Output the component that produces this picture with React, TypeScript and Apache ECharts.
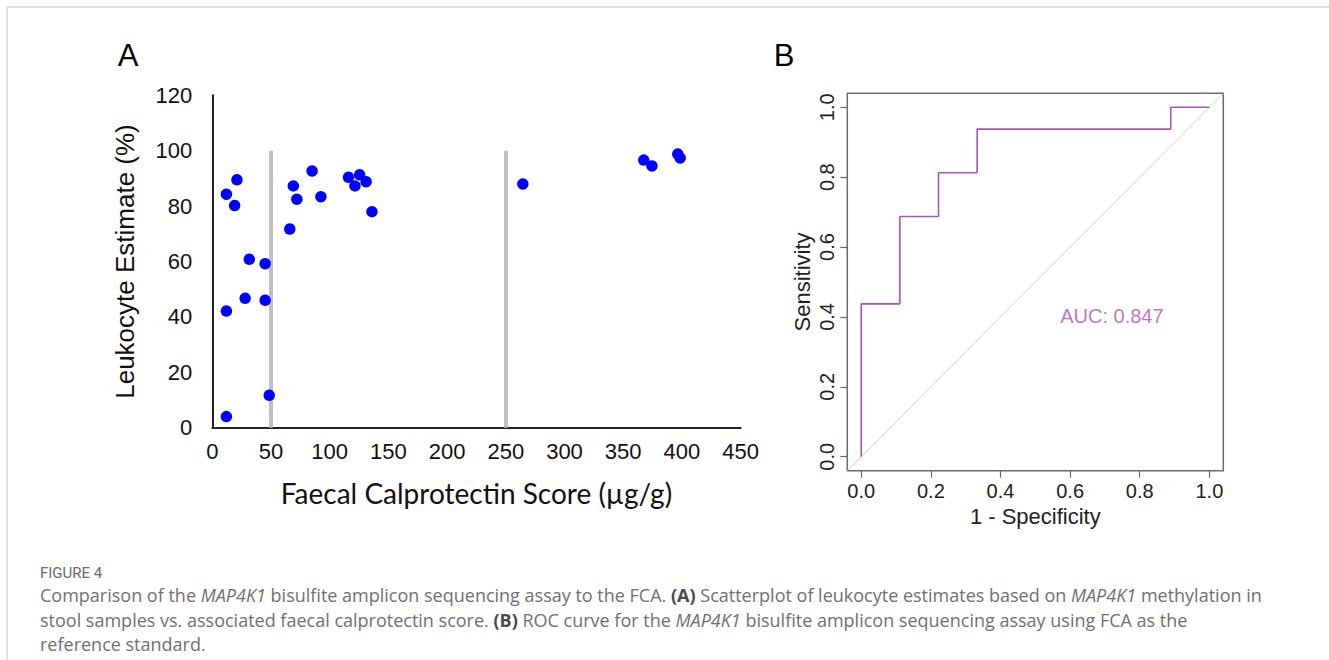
import React, { useEffect, useRef } from "react";
import * as echarts from "echarts";

// Panel A data: faecal calprotectin (µg/g) vs leukocyte estimate (%)
const calprotectin = [12, 21, 19, 12, 12, 31.5, 28, 45, 45, 48.5, 66, 69, 72, 85, 92.5, 116, 121.5, 125.5, 131, 136, 264.5, 367.5, 374.5, 396.5, 398.5];
const leukocyte = [84.3, 89.5, 80.2, 42.1, 4, 60.8, 46.7, 59.2, 46, 11.7, 71.7, 87.3, 82.5, 92.7, 83.4, 90.4, 87.3, 91.3, 88.8, 78, 88, 96.6, 94.5, 98.8, 97.4];
const cutoffs = [50, 250];
const cutoffTop = 100;

// Panel B data: ROC curve
const rocFpr = [0, 0, 0.111, 0.111, 0.222, 0.222, 0.333, 0.333, 0.889, 0.889, 1];
const rocTpr = [0, 0.4375, 0.4375, 0.6875, 0.6875, 0.8125, 0.8125, 0.9375, 0.9375, 1, 1];
const diagX = [-0.04, 1.04];
const diagY = [-0.04, 1.04];
const ticksB = [0, 0.2, 0.4, 0.6, 0.8, 1.0];
const aucValue = 0.847;
const aucPos = [0.72, 0.404];

const captionTitle = "FIGURE 4";
const captionLines = [
  "Comparison of the {i|MAP4K1} bisulfite amplicon sequencing assay to the FCA. {b|(A)} Scatterplot of leukocyte estimates based on {i|MAP4K1} methylation in",
  "stool samples vs. associated faecal calprotectin score. {b|(B)} ROC curve for the {i|MAP4K1} bisulfite amplicon sequencing assay using FCA as the",
  "reference standard.",
];

const ROC_COLOR = "#a853b9";
const CAP_FONT = "Open Sans";
const CAP_SIZE = 18;
const CAP_COLOR = "#707070";

export default function App() {
  const ref = useRef<HTMLDivElement>(null);
  useEffect(() => {
    if (!ref.current) return;
    const chart = echarts.init(ref.current, undefined, { renderer: "svg" });
    const capStyle = (y: number, text: string) => ({
      type: "text",
      left: 40,
      top: y,
      style: {
        text,
        fontFamily: CAP_FONT,
        fontSize: CAP_SIZE,
        fill: CAP_COLOR,
        rich: {
          i: { fontFamily: CAP_FONT, fontSize: CAP_SIZE, fontStyle: "italic", fill: CAP_COLOR },
          b: { fontFamily: CAP_FONT, fontSize: CAP_SIZE, fontWeight: "bold", fill: "#4a4a4a" },
        },
      },
    });
    chart.setOption({
      animation: false,
      backgroundColor: "#ffffff",
      grid: [
        { left: 212.3, top: 95.3, width: 528.3, height: 332.4, containLabel: false },
        {
          left: 847.3, top: 93.3, width: 376, height: 377.4, show: true,
          borderColor: "#6a6a6a", borderWidth: 1.5, backgroundColor: "transparent",
        },
      ],
      xAxis: [
        {
          type: "value", gridIndex: 0, min: 0, max: 450, interval: 50,
          splitLine: { show: false },
          axisLine: { show: true, onZero: false, lineStyle: { color: "#222", width: 2 } },
          axisTick: { show: false },
          axisLabel: { fontFamily: "Liberation Sans", fontSize: 22, color: "#111", margin: 13 },
          name: "Faecal Calprotectin Score (µg/g)",
          nameLocation: "middle",
          nameGap: 51,
          nameTextStyle: { fontFamily: "Lato", fontSize: 28, color: "#111" },
        },
        {
          type: "value", gridIndex: 1, min: -0.04, max: 1.04,
          splitLine: { show: false },
          axisLine: { show: false, onZero: false },
          axisTick: { show: true, length: 7, lineStyle: { color: "#666", width: 1.2 }, customValues: ticksB },
          axisLabel: {
            fontFamily: "Liberation Sans", fontSize: 20, color: "#222", margin: 10,
            customValues: ticksB, formatter: (v: number) => v.toFixed(1),
          },
          name: "1 - Specificity",
          nameLocation: "middle",
          nameGap: 30,
          nameTextStyle: { fontFamily: "Liberation Sans", fontSize: 22, color: "#222" },
        },
      ],
      yAxis: [
        {
          type: "value", gridIndex: 0, min: 0, max: 120, interval: 20,
          splitLine: { show: false },
          axisLine: { show: true, onZero: false, lineStyle: { color: "#222", width: 2 } },
          axisTick: { show: false },
          axisLabel: { fontFamily: "Liberation Sans", fontSize: 22, color: "#111", margin: 20 },
          name: "Leukocyte Estimate (%)",
          nameLocation: "middle",
          nameRotate: 90,
          nameGap: 74,
          nameTextStyle: { fontFamily: "Liberation Sans", fontSize: 26, color: "#111" },
        },
        {
          type: "value", gridIndex: 1, min: -0.04, max: 1.04,
          splitLine: { show: false },
          axisLine: { show: false, onZero: false },
          axisTick: { show: true, length: 7, lineStyle: { color: "#666", width: 1.2 }, customValues: ticksB },
          axisLabel: {
            fontFamily: "Liberation Sans", fontSize: 20, color: "#222", margin: 10, rotate: 90,
            customValues: ticksB, formatter: (v: number) => v.toFixed(1),
          },
          name: "Sensitivity",
          nameLocation: "middle",
          nameRotate: 90,
          nameGap: 34,
          nameTextStyle: { fontFamily: "Liberation Sans", fontSize: 22, color: "#222" },
        },
      ],
      series: [
        {
          type: "scatter", xAxisIndex: 0, yAxisIndex: 0,
          data: calprotectin.map((x, i) => [x, leukocyte[i]]),
          symbolSize: 11.5,
          itemStyle: { color: "#0000ff", opacity: 1 },
          z: 5,
          markLine: {
            silent: true,
            symbol: ["none", "none"],
            label: { show: false },
            lineStyle: { color: "#c0c0c0", width: 4, type: "solid" },
            data: cutoffs.map((c) => [{ coord: [c, 0] }, { coord: [c, cutoffTop] }]),
            z: 2,
          },
        },
        {
          type: "line", xAxisIndex: 1, yAxisIndex: 1,
          data: diagX.map((x, i) => [x, diagY[i]]),
          showSymbol: false, symbol: "none",
          lineStyle: { color: "#cccccc", width: 1 },
          z: 2,
        },
        {
          type: "line", xAxisIndex: 1, yAxisIndex: 1,
          data: rocFpr.map((x, i) => [x, rocTpr[i]]),
          showSymbol: false, symbol: "none",
          lineStyle: { color: ROC_COLOR, width: 1.6 },
          z: 3,
        },
        {
          type: "scatter", xAxisIndex: 1, yAxisIndex: 1,
          data: [aucPos],
          symbolSize: 0,
          label: {
            show: true, position: "inside",
            formatter: () => "AUC: " + aucValue.toFixed(3),
            fontFamily: "Liberation Sans", fontSize: 20, color: ROC_COLOR,
          },
        },
      ],
      graphic: [
        { type: "line", shape: { x1: 7, y1: 7, x2: 1329, y2: 7 }, style: { stroke: "#d6d6d6", lineWidth: 1.5 } },
        { type: "line", shape: { x1: 7, y1: 7, x2: 7, y2: 660 }, style: { stroke: "#d6d6d6", lineWidth: 1.5 } },
        {
          type: "text", x: 128, y: 55,
          style: { text: "A", fontFamily: "Liberation Sans", fontSize: 31, fill: "#000", align: "center", verticalAlign: "middle" },
        },
        {
          type: "text", x: 784, y: 55,
          style: { text: "B", fontFamily: "Liberation Sans", fontSize: 31, fill: "#000", align: "center", verticalAlign: "middle" },
        },
        {
          type: "text", left: 40, top: 565,
          style: { text: captionTitle, fontFamily: "Roboto", fontSize: 15, fill: "#6a6a6a" },
        },
        capStyle(586, captionLines[0]),
        capStyle(610.5, captionLines[1]),
        capStyle(635, captionLines[2]),
      ],
    });
    return () => chart.dispose();
  }, []);
  return (
    <div
      ref={ref}
      style={{ position: "absolute", left: 0, top: 0, width: 1329, height: 660, background: "#fff" }}
    />
  );
}
